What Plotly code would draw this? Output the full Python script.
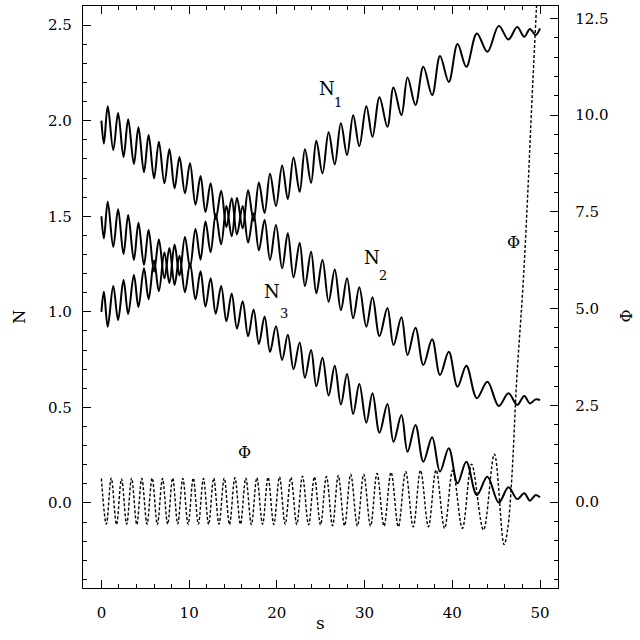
import plotly.graph_objects as go

# extremum times shared by the three N curves
s_ext = [0.0, 0.28, 0.72, 1.35, 1.9, 2.52, 3.05, 3.7, 4.22, 4.85, 5.38, 6.0, 6.55, 7.18, 7.75,
         8.34, 8.9, 9.52, 10.1, 10.72, 11.3, 11.86, 12.45, 13.03, 13.65, 14.25, 14.85, 15.45,
         16.1, 16.72, 17.35, 17.95, 18.6, 19.22, 19.9, 20.6, 21.25, 21.9, 22.6, 23.2, 23.9,
         24.5, 25.2, 25.9, 26.6, 27.3, 28.0, 28.7, 29.4, 30.2, 30.9, 31.7, 32.6, 33.3, 34.2,
         34.9, 35.8, 36.7, 37.7, 38.6, 39.6, 40.6, 41.6, 42.8, 44.0, 45.3, 46.4, 47.4, 48.2,
         48.85, 49.5, 50.0]

N1 = [1.00, 1.105, 0.922, 1.135, 0.957, 1.166, 0.989, 1.192, 1.025, 1.228, 1.066, 1.268, 1.108,
      1.31, 1.151, 1.352, 1.19, 1.392, 1.232, 1.433, 1.273, 1.472, 1.312, 1.512, 1.353, 1.554,
      1.395, 1.595, 1.436, 1.636, 1.476, 1.676, 1.517, 1.722, 1.553, 1.766, 1.59, 1.808, 1.628,
      1.85, 1.675, 1.895, 1.724, 1.939, 1.771, 1.986, 1.82, 2.029, 1.867, 2.076, 1.916, 2.122,
      1.968, 2.174, 2.029, 2.226, 2.082, 2.282, 2.134, 2.338, 2.203, 2.401, 2.282, 2.456, 2.36,
      2.496, 2.425, 2.49, 2.439, 2.48, 2.448, 2.483]

N2 = [2.00, 1.88, 2.076, 1.846, 2.04, 1.81, 2.007, 1.773, 1.965, 1.73, 1.925, 1.698, 1.89, 1.672,
      1.85, 1.646, 1.81, 1.62, 1.777, 1.56, 1.71, 1.522, 1.672, 1.484, 1.633, 1.444, 1.594,
      1.405, 1.554, 1.362, 1.516, 1.322, 1.48, 1.271, 1.454, 1.227, 1.411, 1.18, 1.361, 1.135,
      1.314, 1.097, 1.271, 1.053, 1.222, 1.009, 1.175, 0.966, 1.128, 0.922, 1.076, 0.873, 1.02,
      0.826, 0.971, 0.774, 0.917, 0.722, 0.856, 0.669, 0.791, 0.608, 0.718, 0.548, 0.634, 0.507,
      0.574, 0.513, 0.56, 0.521, 0.542, 0.539]

N3 = [1.50, 1.384, 1.576, 1.34, 1.536, 1.302, 1.506, 1.271, 1.466, 1.245, 1.428, 1.21, 1.378,
      1.175, 1.334, 1.14, 1.293, 1.103, 1.253, 1.065, 1.212, 1.028, 1.175, 0.99, 1.135, 0.95,
      1.096, 0.912, 1.055, 0.872, 1.012, 0.832, 0.975, 0.79, 0.925, 0.748, 0.88, 0.7, 0.84,
      0.655, 0.8, 0.61, 0.76, 0.562, 0.718, 0.515, 0.674, 0.465, 0.622, 0.42, 0.574, 0.368,
      0.518, 0.32, 0.46, 0.268, 0.408, 0.216, 0.344, 0.164, 0.286, 0.103, 0.216, 0.042, 0.137,
      0.002, 0.082, 0.02, 0.051, 0.012, 0.042, 0.03]

# Phi curve: extremum times and values, then the final steep rise
phi_s = [0.0, 0.56, 1.12, 1.72, 2.29, 2.88, 3.44, 4.03, 4.6, 5.2, 5.78, 6.38, 6.96, 7.55, 8.12,
         8.7, 9.28, 9.88, 10.47, 11.05, 11.63, 12.22, 12.8, 13.4, 14.0, 14.6, 15.22, 15.85,
         16.46, 17.1, 17.72, 18.37, 19.0, 19.65, 20.3, 20.95, 21.6, 22.27, 22.92, 23.62, 24.28,
         24.98, 25.65, 26.35, 27.0, 27.72, 28.42, 29.18, 29.9, 30.68, 31.42, 32.22, 33.02,
         33.85, 34.68, 35.55, 36.38, 37.28, 38.15, 39.12, 40.05, 41.15, 42.2, 43.55, 44.8,
         45.9, 46.3, 46.77, 47.34, 48.1, 48.67, 49.0, 49.6, 49.8]
phi_v = [0.61, -0.57, 0.62, -0.58, 0.60, -0.57, 0.62, -0.58, 0.61, -0.57, 0.62, -0.58, 0.61,
         -0.57, 0.62, -0.56, 0.61, -0.57, 0.62, -0.57, 0.61, -0.58, 0.62, -0.57, 0.62, -0.58,
         0.63, -0.57, 0.62, -0.58, 0.63, -0.57, 0.64, -0.58, 0.65, -0.57, 0.64, -0.58, 0.67,
         -0.59, 0.65, -0.59, 0.66, -0.61, 0.69, -0.61, 0.72, -0.62, 0.72, -0.62, 0.74, -0.62,
         0.77, -0.64, 0.79, -0.64, 0.82, -0.64, 0.83, -0.68, 0.82, -0.68, 0.98, -0.72, 1.24,
         -1.10, -0.72, 0.57, 3.15, 5.74, 8.3, 10.0, 12.8, 13.7]

x_ticks = [0, 10, 20, 30, 40, 50]
n_ticks = [0.0, 0.5, 1.0, 1.5, 2.0, 2.5]
phi_ticks = [0.0, 2.5, 5.0, 7.5, 10.0, 12.5]

FONT = "DejaVu Serif"
solid = dict(color="black", width=2.0, shape="spline", smoothing=1.0)

fig = go.Figure()
for ys in (N1, N2, N3):
    fig.add_trace(go.Scatter(x=s_ext, y=ys, mode="lines", line=solid, yaxis="y",
                             showlegend=False, hoverinfo="skip"))
fig.add_trace(go.Scatter(x=phi_s, y=phi_v, mode="lines", yaxis="y2", showlegend=False,
                         hoverinfo="skip",
                         line=dict(color="black", width=1.4, dash="3px,2px",
                                   shape="spline", smoothing=1.0)))

axis_common = dict(showgrid=False, zeroline=False, showline=True, linecolor="black",
                   linewidth=1.3, ticks="inside", ticklen=8, tickwidth=1.2,
                   tickcolor="black",
                   tickfont=dict(family=FONT, size=15, color="black"))

fig.update_layout(
    width=640, height=640,
    margin=dict(l=83, r=82, t=6, b=52),
    paper_bgcolor="white", plot_bgcolor="white",
    font=dict(family=FONT, color="black"),
    xaxis=dict(range=[-2.1, 52.05], tickvals=x_ticks, mirror="ticks",
               minor=dict(dtick=2, tick0=0, ticks="inside", ticklen=4, tickcolor="black",
                          tickwidth=1),
               ticklabelstandoff=11, **axis_common),
    yaxis=dict(range=[-0.445, 2.6], tickvals=n_ticks, tickformat=".1f",
               minor=dict(dtick=0.1, tick0=0, ticks="inside", ticklen=4, tickcolor="black",
                          tickwidth=1),
               ticklabelstandoff=7, **axis_common),
    yaxis2=dict(range=[-2.22, 12.82], tickvals=phi_ticks, tickformat=".1f",
                overlaying="y", side="right",
                minor=dict(dtick=0.5, tick0=0, ticks="inside", ticklen=4, tickcolor="black",
                           tickwidth=1),
                ticklabelstandoff=13, **axis_common),
)

ann = []
def lab(x, y, t, size, ref="y"):
    ann.append(dict(x=x, y=y, xref="x", yref=ref, text=t, showarrow=False,
                    font=dict(family=FONT, size=size, color="black")))

lab(25.76, 2.169, "N", 18); lab(27.0, 2.093, "1", 13)
lab(30.9, 1.285, "N", 18); lab(32.1, 1.189, "2", 13)
lab(19.5, 1.105, "N", 18); lab(20.8, 0.992, "3", 13)
lab(47.0, 1.361, "Φ", 16)
lab(16.3, 0.263, "Φ", 16)

ann.append(dict(x=-0.158, y=0.467, xref="paper", yref="paper", text="N", showarrow=False,
                textangle=-90, font=dict(family=FONT, size=16, color="black")))
ann.append(dict(x=1.168, y=0.467, xref="paper", yref="paper", text="Φ", showarrow=False,
                textangle=-90, font=dict(family=FONT, size=16, color="black")))
ann.append(dict(x=0.499, y=-0.08, xref="paper", yref="paper", text="s", showarrow=False,
                font=dict(family=FONT, size=17, color="black")))
fig.update_layout(annotations=ann)

fig.write_html("out.html")
